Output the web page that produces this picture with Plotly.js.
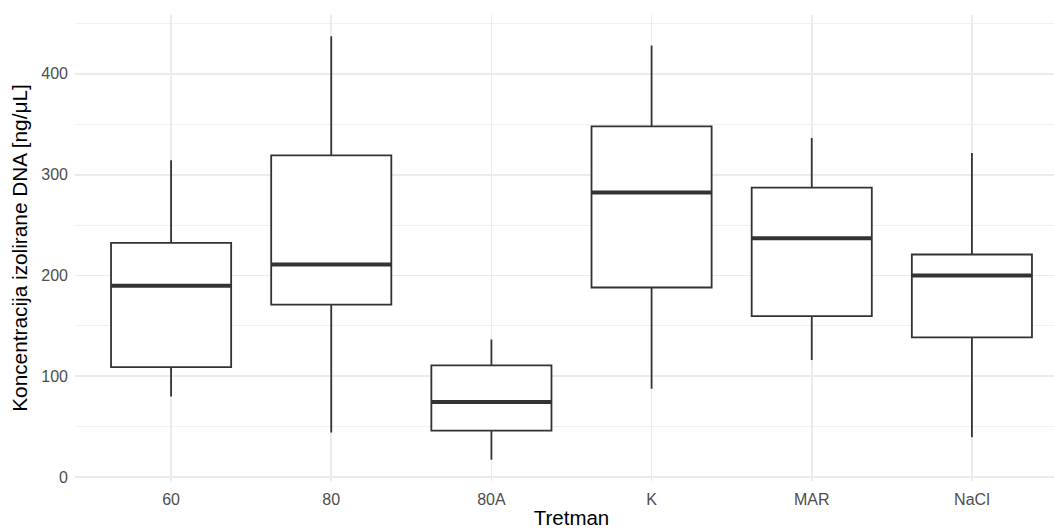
<!DOCTYPE html>
<html>
<head>
<meta charset="utf-8">
<script src="https://cdn.plot.ly/plotly-3.0.1.min.js"></script>
<style>
html, body { margin: 0; padding: 0; overflow: hidden; background: #fff; }
#chart { width: 1070px; height: 529px; }
</style>
</head>
<body>
<div id="chart"></div>
<script>
// Data
const categories = ["60", "80", "80A", "K", "MAR", "NaCl"];
const lowerWhisker = [79.9, 44.2, 17.2, 87.8, 116.2, 39.6];
const q1Values = [109.2, 171.0, 46.2, 188.1, 159.7, 138.6];
const medianValues = [189.8, 210.9, 74.6, 282.2, 237.0, 200.0];
const q3Values = [232.3, 319.1, 110.9, 347.9, 287.1, 220.8];
const upperWhisker = [314.2, 437.3, 136.6, 428.1, 336.3, 321.5];
const yTickVals = [0, 100, 200, 300, 400];

const boxWidth = 0.75;

const trace = {
  type: "box",
  x: categories,
  q1: q1Values,
  median: medianValues,
  q3: q3Values,
  lowerfence: lowerWhisker,
  upperfence: upperWhisker,
  boxpoints: false,
  width: boxWidth,
  fillcolor: "#FFFFFF",
  line: { color: "#333333", width: 1.8 },
  whiskerwidth: 0,
  hoverinfo: "skip",
  showlegend: false
};

// thicker median lines (ggplot fatten = 2)
const medianShapes = categories.map((c, i) => ({
  type: "line",
  xref: "x", yref: "y",
  x0: i - boxWidth / 2, x1: i + boxWidth / 2,
  y0: medianValues[i], y1: medianValues[i],
  line: { color: "#333333", width: 4 },
  layer: "above"
}));

const layout = {
  width: 1070,
  height: 529,
  margin: { l: 75, r: 2, t: 15, b: 48 },
  paper_bgcolor: "#FFFFFF",
  plot_bgcolor: "#FFFFFF",
  font: { family: "Liberation Sans, Arial, sans-serif", color: "#4D4D4D" },
  showlegend: false,
  shapes: medianShapes,
  xaxis: {
    type: "category",
    range: [-0.6, 5.6],
    showgrid: true,
    gridcolor: "#EBEBEB",
    gridwidth: 1.8,
    zeroline: false,
    showline: false,
    ticks: "",
    tickfont: { size: 16, color: "#4D4D4D" },
    ticklabelstandoff: 7,
    title: { text: "Tretman", font: { size: 20.5, color: "#000000" }, standoff: 4 }
  },
  yaxis: {
    range: [-3.8, 458.3],
    tickvals: yTickVals,
    ticktext: yTickVals.map(String),
    showgrid: true,
    gridcolor: "#EBEBEB",
    gridwidth: 1.8,
    minor: { dtick: 50, tick0: 0, showgrid: true, gridcolor: "#F0F0F0", gridwidth: 1, ticks: "" },
    zeroline: false,
    showline: false,
    ticks: "",
    tickfont: { size: 16, color: "#4D4D4D" },
    ticklabelstandoff: 6,
    title: { text: "Koncentracija izolirane DNA [ng/μL]", font: { size: 20.8, color: "#000000" }, standoff: 8 }
  }
};

Plotly.newPlot("chart", [trace], layout, { staticPlot: true, displayModeBar: false });
</script>
</body>
</html>
